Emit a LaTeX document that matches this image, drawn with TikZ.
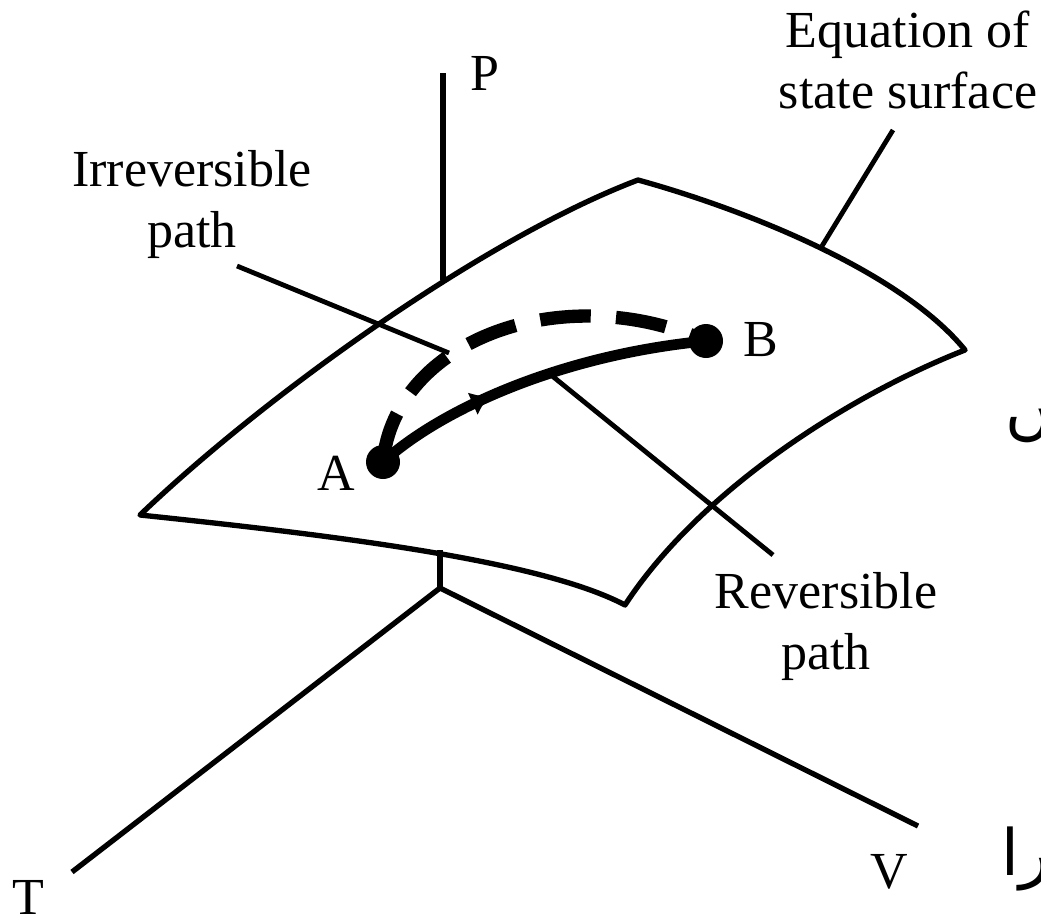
\documentclass[tikz,border=0pt]{standalone}
\usepackage{graphicx}
\usepackage{fontspec}
\setmainfont{Liberation Serif}
\newfontfamily\arabicfont[Script=Arabic]{DejaVu Sans}
\TeXXeTstate=1
\usetikzlibrary{decorations.markings,arrows.meta}
\begin{document}
\begin{tikzpicture}[x=0.75pt,y=-0.75pt,line join=round,
  edge/.style={line width=4pt},
  leader/.style={line width=3.6pt},
  lbl/.style={font=\fontsize{39}{45.75}\selectfont, inner sep=0pt, align=center},
  arab/.style={font=\arabicfont\fontsize{48}{56}\selectfont, inner sep=0pt},
  dot/.style={circle, fill=black, inner sep=0pt, minimum size=25.5pt},
  revpath/.style={line width=8pt,
    postaction={decorate},
    decoration={markings, mark=at position 0.36 with {\arrow{Latex[length=14pt,width=19pt]}}}},
  irrpath/.style={line width=10pt, dash pattern=on 38pt off 19pt}
]
\useasboundingbox (0,0) rectangle (1041,918);
\clip (0,0) rectangle (1041,918);

% corners of the surface
\coordinate (L) at (140,515);
\coordinate (Tp) at (638,180);
\coordinate (R) at (965,350);
\coordinate (Bt) at (625,605);

% axes
\coordinate (O) at (440,588);
\coordinate (Ob) at (440,550);
\coordinate (Ptop) at (443,73);
\coordinate (Pbot) at (443,280);
\coordinate (Tend) at (72,872);
\coordinate (Vend) at (918,826);

\draw[edge] (Ptop) -- (Pbot);
\draw[edge] (Ob) -- (O);
\draw[edge] (O) -- (Tend);
\draw[edge] (O) -- (Vend);

% surface
\draw[edge] (L) .. controls (260,400) and (480,240) .. (Tp)
  .. controls (740,208) and (900,270) .. (R)
  .. controls (850,395) and (700,490) .. (Bt)
  .. controls (540,560) and (330,535) .. cycle;

% points
\node[dot] (A) at (383,462) {};
\node[dot] (B) at (706,341) {};

% paths
\draw[irrpath] (A.center) .. controls (395,340) and (562,278) .. (B.center);
\draw[revpath] (A.center) .. controls (440,410) and (560,355) .. (B.center);

% labels
\node[lbl, anchor=base] (P) at (485,90) {P};
\node[lbl, anchor=base] (T) at (28,914) {T};
\node[lbl, anchor=base] (V) at (889,888) {V};
\node[lbl, anchor=base] (Al) at (336,490) {A};
\node[lbl, anchor=base] (Bl) at (761,356) {B};
\node[lbl, anchor=base] (irr) at (192,247) {Irreversible\\path};
\node[lbl, anchor=base] (eos) at (908,108) {Equation of\\state surface};
\node[lbl, anchor=base] (rev) at (826,669) {Reversible\\path};

% leaders
\coordinate (irrt) at (237,266);
\coordinate (irrh) at (449,353);
\coordinate (eost) at (893,130);
\coordinate (eosh) at (822,246);
\coordinate (revt) at (773,555);
\coordinate (revh) at (551,375);
\draw[leader] (irrt) -- (irrh);
\draw[leader] (eost) -- (eosh);
\draw[leader] (revt) -- (revh);

% cropped fragments at the right edge
\node[arab, anchor=base west] (ar1) at (1005,432) {\beginR ں\endR};
\node[arab, anchor=base west] (ar2) at (1001,875) {\beginR نرا\endR};
\end{tikzpicture}
\end{document}
